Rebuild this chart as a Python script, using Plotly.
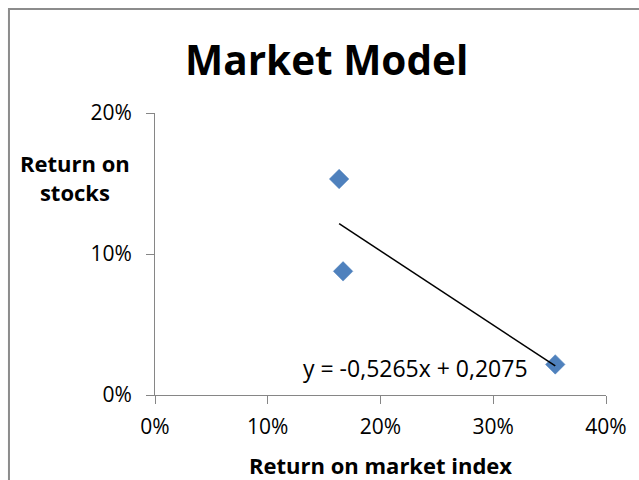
import plotly.graph_objects as go

# Data
market_returns = [0.1633, 0.1668, 0.355]   # Return on market index
stock_returns = [0.1532, 0.0877, 0.0217]   # Return on stocks
trend_slope = -0.5265
trend_intercept = 0.2075
trend_label = "y = -0,5265x + 0,2075"
x_ticks = [0, 0.1, 0.2, 0.3, 0.4]
y_ticks = [0, 0.1, 0.2]

FONT = "Open Sans"
AXIS_GRAY = "#868686"

tx = [min(market_returns), max(market_returns)]
ty = [trend_slope * v + trend_intercept for v in tx]

fig = go.Figure()
fig.add_trace(go.Scatter(
    x=market_returns, y=stock_returns, mode="markers",
    marker=dict(symbol="diamond", size=15, color="#4F81BD",
                line=dict(width=0.5, color="#4A7EBB")),
    showlegend=False, hoverinfo="skip"))
fig.add_trace(go.Scatter(
    x=tx, y=ty, mode="lines", line=dict(color="black", width=1.5),
    showlegend=False, hoverinfo="skip"))

axis_common = dict(
    showgrid=False, zeroline=False, showline=True, linecolor=AXIS_GRAY,
    linewidth=1, ticks="outside", ticklen=8, tickcolor=AXIS_GRAY,
    tickwidth=1, tickformat=".0%",
    tickfont=dict(family=FONT, size=21, color="black"),
)

fig.update_layout(
    width=639, height=480,
    margin=dict(l=155, r=30, t=113, b=85),
    paper_bgcolor="white", plot_bgcolor="white",
    xaxis=dict(range=[0, 0.4], tickvals=x_ticks, ticklabelstandoff=5, **axis_common),
    yaxis=dict(range=[0, 0.2], tickvals=y_ticks, ticklabelstandoff=10, **axis_common),
)

fig.add_annotation(text="<b>Market Model</b>", xref="paper", yref="paper",
                   x=0.38, y=1.19, showarrow=False, xanchor="center", yanchor="middle",
                   font=dict(family=FONT, size=40.5, color="black"))
fig.add_annotation(text="<b>Return on<br>stocks</b>", xref="paper", yref="paper",
                   x=-0.178, y=0.772, showarrow=False, xanchor="center", yanchor="middle",
                   font=dict(family=FONT, size=22, color="black"))
fig.add_annotation(text="<b>Return on market index</b>", xref="paper", yref="paper",
                   x=0.5, y=-0.248, showarrow=False, xanchor="center", yanchor="middle",
                   font=dict(family=FONT, size=22, color="black"))
fig.add_annotation(text=trend_label, xref="x", yref="y",
                   x=0.2313, y=0.0191, showarrow=False, xanchor="center", yanchor="middle",
                   font=dict(family=FONT, size=23, color="black"))

# chart border (extends past right/bottom edges like the reference)
fig.add_shape(type="rect", xref="paper", yref="paper",
              x0=-0.3238, y0=-0.6, x1=1.3, y1=1.3688,
              line=dict(color="#8C8C8C", width=2), fillcolor="rgba(0,0,0,0)", layer="below")

fig.write_html("out.html")
